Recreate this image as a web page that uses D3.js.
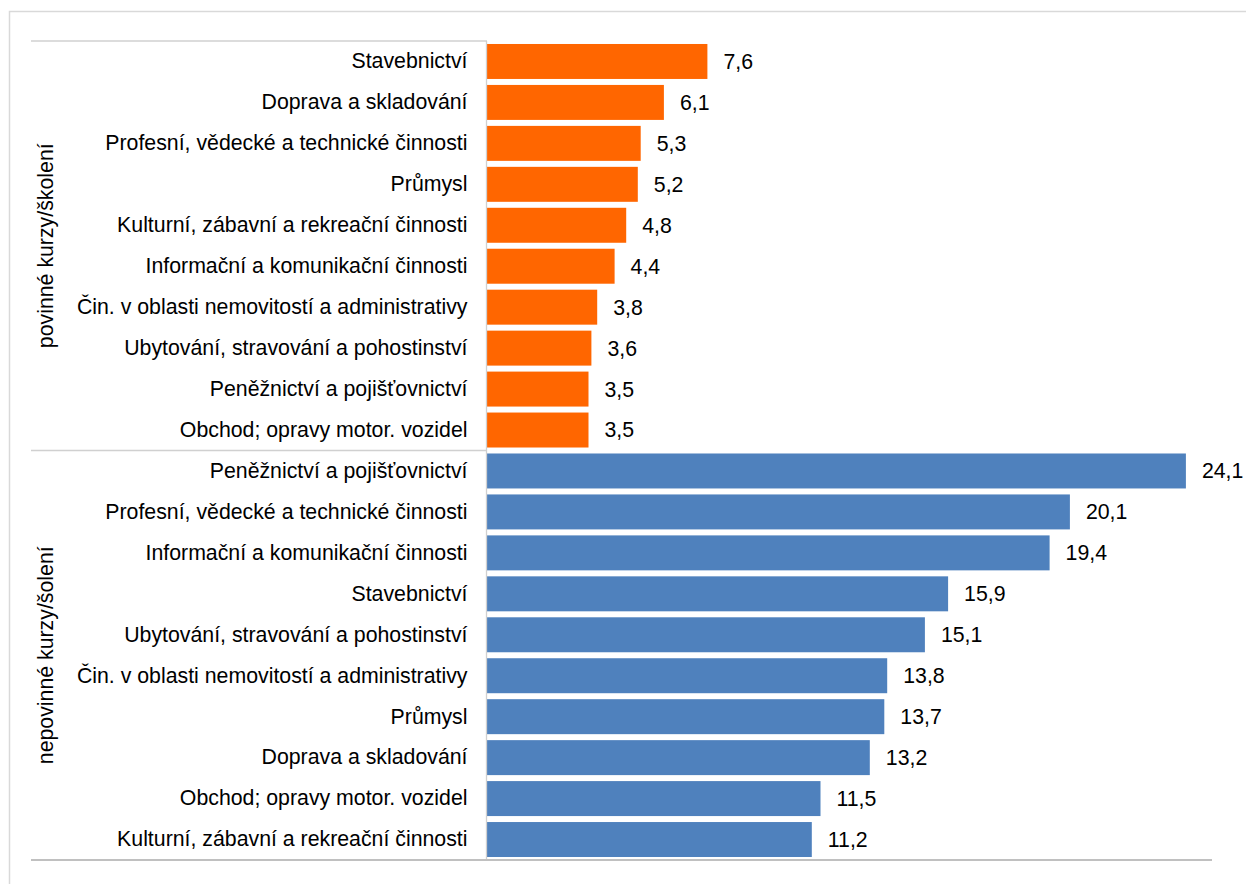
<!DOCTYPE html>
<html lang="cs">
<head>
<meta charset="utf-8">
<script src="https://cdn.jsdelivr.net/npm/d3@7"></script>
<style>
  html, body { margin: 0; padding: 0; background: #fff; }
  svg { display: block; font-family: "Liberation Sans", Arial, sans-serif; }
</style>
</head>
<body>
<svg id="chart" width="1246" height="884"></svg>
<script>
// Povinné kurzy/školení podle odvětví (%)
const mandatoryCategories = [
  "Stavebnictví",
  "Doprava a skladování",
  "Profesní, vědecké a technické činnosti",
  "Průmysl",
  "Kulturní, zábavní a rekreační činnosti",
  "Informační a komunikační činnosti",
  "Čin. v oblasti nemovitostí a administrativy",
  "Ubytování, stravování a pohostinství",
  "Peněžnictví a pojišťovnictví",
  "Obchod; opravy motor. vozidel"
];
const mandatoryValues = [7.6, 6.1, 5.3, 5.2, 4.8, 4.4, 3.8, 3.6, 3.5, 3.5];

// Nepovinné kurzy/školení podle odvětví (%)
const optionalCategories = [
  "Peněžnictví a pojišťovnictví",
  "Profesní, vědecké a technické činnosti",
  "Informační a komunikační činnosti",
  "Stavebnictví",
  "Ubytování, stravování a pohostinství",
  "Čin. v oblasti nemovitostí a administrativy",
  "Průmysl",
  "Doprava a skladování",
  "Obchod; opravy motor. vozidel",
  "Kulturní, zábavní a rekreační činnosti"
];
const optionalValues = [24.1, 20.1, 19.4, 15.9, 15.1, 13.8, 13.7, 13.2, 11.5, 11.2];

const groupLabels = ["povinné kurzy/školení", "nepovinné kurzy/šolení"];
const groupColors = ["#FF6600", "#4F81BD"];
const xMax = 25;

const rows = [
  ...mandatoryCategories.map((c, i) => ({ key: "p" + i, group: 0, cat: c, value: mandatoryValues[i] })),
  ...optionalCategories.map((c, i) => ({ key: "n" + i, group: 1, cat: c, value: optionalValues[i] }))
];

const fontSize = 21.3;
const svg = d3.select("#chart");

// outer frame
svg.append("rect")
  .attr("x", 9.5).attr("y", 11.5)
  .attr("width", 1260).attr("height", 900)
  .attr("fill", "none").attr("stroke", "#d9d9d9").attr("stroke-width", 1.5);

const plot = { left: 487, right: 1212, top: 41, bottom: 860 };

const x = d3.scaleLinear().domain([0, xMax]).range([plot.left, plot.right]);
const y = d3.scaleBand()
  .domain(rows.map(d => d.key))
  .range([plot.top, plot.bottom])
  .paddingInner(0.146)
  .paddingOuter(0.073);

const fmt = v => d3.format(".1f")(v).replace(".", ",");

// bars
svg.append("g").selectAll("rect")
  .data(rows)
  .join("rect")
  .attr("x", x(0))
  .attr("y", d => y(d.key))
  .attr("width", d => x(d.value) - x(0))
  .attr("height", y.bandwidth())
  .attr("fill", d => groupColors[d.group]);

// value labels
svg.append("g").selectAll("text")
  .data(rows)
  .join("text")
  .attr("x", d => x(d.value) + 16)
  .attr("y", d => y(d.key) + y.bandwidth() / 2)
  .attr("dy", "0.35em")
  .attr("font-size", fontSize)
  .attr("fill", "#000")
  .text(d => fmt(d.value));

// category axis (left)
const yAxis = d3.axisLeft(y)
  .tickSize(0)
  .tickPadding(19)
  .tickFormat(k => rows.find(r => r.key === k).cat);
const ax = svg.append("g")
  .attr("transform", `translate(${plot.left - 0.5},0)`)
  .call(yAxis);
ax.select(".domain").remove();
ax.selectAll("text")
  .attr("font-size", fontSize)
  .attr("font-family", "'Liberation Sans', Arial, sans-serif")
  .attr("fill", "#000");

// axis line and group separators
const lineColor = "#d0d0d0";
svg.append("line")
  .attr("x1", plot.left - 0.5).attr("x2", plot.left - 0.5)
  .attr("y1", plot.top).attr("y2", plot.bottom)
  .attr("stroke", lineColor).attr("stroke-width", 1.3);

const groupBounds = [plot.top, (plot.top + plot.bottom) / 2, plot.bottom];
groupBounds.forEach((gy, i) => {
  svg.append("line")
    .attr("x1", 31)
    .attr("x2", i === 2 ? plot.right : plot.left)
    .attr("y1", gy).attr("y2", gy)
    .attr("stroke", i === 2 ? "#c0c0c0" : lineColor)
    .attr("stroke-width", i === 2 ? 2 : 1.3);
});

// rotated group labels
groupLabels.forEach((label, i) => {
  const cy = (groupBounds[i] + groupBounds[i + 1]) / 2;
  svg.append("text")
    .attr("transform", `translate(46,${cy}) rotate(-90)`)
    .attr("text-anchor", "middle")
    .attr("dy", "0.35em")
    .attr("font-size", fontSize)
    .attr("fill", "#000")
    .text(label);
});
</script>
</body>
</html>
